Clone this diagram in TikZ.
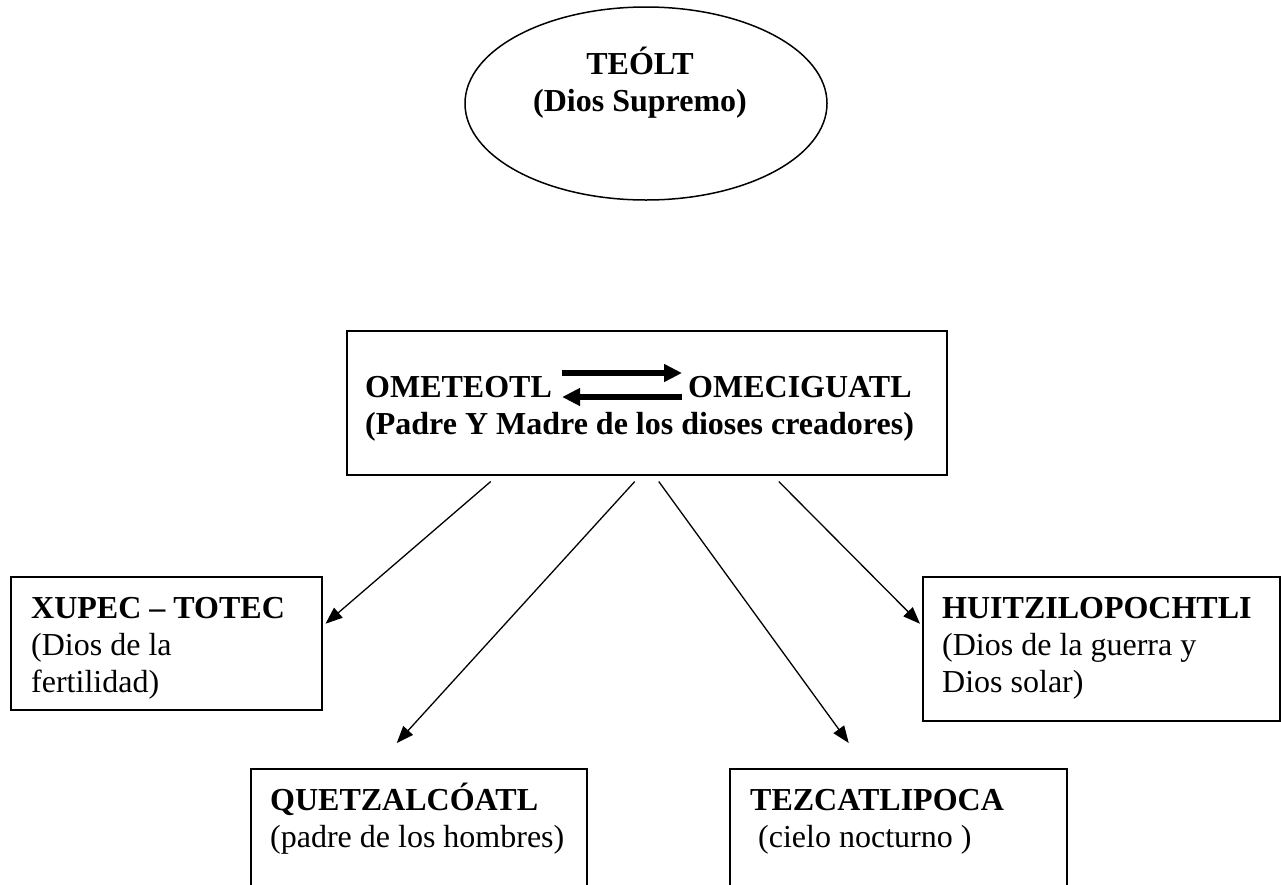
\documentclass[tikz,border=0pt]{standalone}
\usepackage{fontspec}
\setmainfont{Liberation Serif}
\usetikzlibrary{%
  positioning
 ,arrows.meta
 ,shapes.geometric
}
\tikzstyle{godbox}=[draw,line width=1.5pt,inner sep=0pt,anchor=north west]
\tikzstyle{godtext}=[align=left,anchor=base west,inner sep=0pt]
\tikzstyle{descent}=[-{Triangle[length=17pt,width=13pt]},line width=1.3pt]
\tikzstyle{couple}=[-{Triangle[length=18pt,width=17pt]},line width=6pt]

\begin{document}
\begin{tikzpicture}[x=1pt,y=-1pt,font=\fontsize{32}{37}\selectfont]
  \useasboundingbox (0,0) rectangle (1281,884);
  \clip (0,0) rectangle (1281,884);
% dios supremo
  \node[draw,ellipse,line width=1.5pt,minimum width=362pt,minimum height=193pt] (teolt) at (646,103.5) {};
  \node[align=center,anchor=base,inner sep=0pt] (teoltName) at (640,111) {\textbf{TEÓLT}\\\textbf{(Dios Supremo)}};
% pareja creadora
  \node[godbox,minimum width=600pt,minimum height=144pt] (creadores) at (346,330) {};
  \node[godtext] (ometeotl)   at (365,397) {\textbf{OMETEOTL}};
  \node[godtext] (omeciguatl) at (688,397) {\textbf{OMECIGUATL}};
  \node[godtext] (padres)     at (365,434) {\textbf{(Padre Y Madre de los dioses creadores)}};
  \draw[couple] ([xshift=10pt,yshift=24pt]ometeotl.base east) -- ([xshift=-6pt,yshift=24pt]omeciguatl.base west);
  \draw[couple] ([xshift=-6pt]omeciguatl.base west) -- ([xshift=10pt]ometeotl.base east);
% dioses creadores (base = ultima linea)
  \node[godbox,minimum width=311pt,minimum height=133pt] (xupec) at (10,576) {};
  \node[godtext] (xupecText) at ([xshift=21pt,yshift=-116pt]xupec.north west) {\textbf{XUPEC – TOTEC}\\(Dios de la\\fertilidad)};
  \node[godbox,minimum width=357pt,minimum height=144pt] (huitz) at (922,576) {};
  \node[godtext] (huitzText) at ([xshift=20pt,yshift=-116pt]huitz.north west) {\textbf{HUITZILOPOCHTLI}\\(Dios de la guerra y\\Dios solar)};
  \node[godbox,minimum width=336pt,minimum height=150pt] (quetz) at (250,768) {};
  \node[godtext] (quetzText) at ([xshift=20pt,yshift=-79pt]quetz.north west) {\textbf{QUETZALCÓATL}\\(padre de los hombres)};
  \node[godbox,minimum width=337pt,minimum height=150pt] (tezca) at (729,768) {};
  \node[godtext] (tezcaText) at ([xshift=21pt,yshift=-79pt]tezca.north west) {\textbf{TEZCATLIPOCA}\\\hspace*{8pt}(cielo nocturno )};
%
  \draw[descent] ([xshift=-156pt,yshift=-6pt]creadores.south) -- ([xshift=3pt,yshift=19.5pt]xupec.east);
  \draw[descent] ([xshift=-12pt,yshift=-6pt]creadores.south)  -- ([xshift=-22pt,yshift=25pt]quetz.north);
  \draw[descent] ([xshift=12pt,yshift=-6pt]creadores.south)   -- ([xshift=-49.5pt,yshift=25pt]tezca.north);
  \draw[descent] ([xshift=132pt,yshift=-6pt]creadores.south)  -- ([xshift=-2pt,yshift=25pt]huitz.west);
\end{tikzpicture}
\end{document}
